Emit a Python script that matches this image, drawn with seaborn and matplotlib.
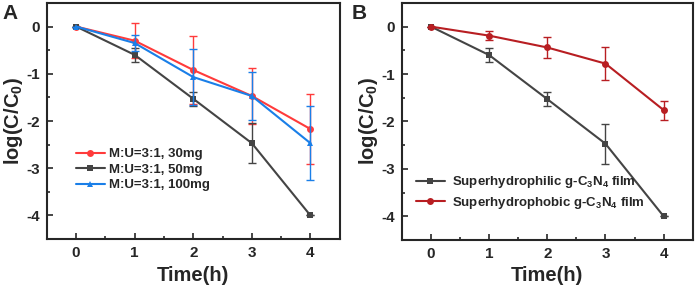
import numpy as np
import pandas as pd
import matplotlib
matplotlib.use("Agg")
import matplotlib.pyplot as plt
import seaborn as sns
from matplotlib.ticker import MultipleLocator

# --- data ---
time_h = [0, 1, 2, 3, 4]

# panel A
a_30mg = [0, -0.30, -0.92, -1.47, -2.17]
a_30mg_err = [0, 0.37, 0.72, 0.60, 0.75]
a_50mg = [0, -0.60, -1.53, -2.47, -4.00]
a_50mg_err = [0, 0.15, 0.15, 0.42, 0]
a_100mg = [0, -0.35, -1.07, -1.47, -2.47]
a_100mg_err = [0, 0.17, 0.60, 0.50, 0.78]
a_labels = ["M:U=3:1, 30mg", "M:U=3:1, 50mg", "M:U=3:1, 100mg"]

# panel B
b_philic = [0, -0.60, -1.53, -2.47, -4.00]
b_philic_err = [0, 0.15, 0.15, 0.42, 0]
b_phobic = [0, -0.19, -0.44, -0.78, -1.76]
b_phobic_err = [0, 0.09, 0.22, 0.35, 0.20]
b_labels = ["Superhydrophilic g-C$_3$N$_4$ film", "Superhydrophobic g-C$_3$N$_4$ film"]

sns.set_style("ticks")
plt.rcParams['font.family'] = ['Liberation Sans', 'DejaVu Sans']
plt.rcParams['font.weight'] = 'bold'
plt.rcParams['mathtext.fontset'] = 'custom'
plt.rcParams['mathtext.rm'] = 'Liberation Sans:bold'
plt.rcParams['mathtext.it'] = 'Liberation Sans:bold'

fig = plt.figure(figsize=(6.99, 2.93), dpi=100)
axA = fig.add_axes([0.067, 0.184, 0.419, 0.806])
axB = fig.add_axes([0.575, 0.181, 0.416, 0.809])


def draw(ax, series):
    for y, err, lab, col, mk in series:
        df = pd.DataFrame({"t": time_h, "v": y})
        sns.lineplot(data=df, x="t", y="v", ax=ax, color=col, marker=mk,
                     markersize=5, markeredgewidth=0, linewidth=1.5, label=lab)
        ax.errorbar(time_h, y, yerr=err, fmt='none', ecolor=col, elinewidth=1,
                    capsize=3, capthick=1)


def style(ax):
    ax.set_xlim(-0.5, 4.5)
    ax.set_ylim(-4.5, 0.5)
    ax.xaxis.set_major_locator(MultipleLocator(1))
    ax.xaxis.set_minor_locator(MultipleLocator(0.5))
    ax.yaxis.set_major_locator(MultipleLocator(1))
    ax.yaxis.set_minor_locator(MultipleLocator(0.5))
    ax.tick_params(which='both', direction='in', width=1.2)
    ax.tick_params(which='major', length=4.5, labelsize=11, pad=5)
    ax.tick_params(which='minor', length=2.5)
    for s in ax.spines.values():
        s.set_visible(True)
        s.set_linewidth(1.5)
    ax.set_xlabel("Time(h)", fontsize=14.5, fontweight='bold', labelpad=4)
    ax.set_ylabel("log(C/C$_0$)", fontsize=14.5, fontweight='bold', labelpad=1)
    ax.set_yticks([0, -1, -2, -3, -4])
    ax.set_yticklabels(["0", "-1", "-2", "-3", "-4"])
    for t in ax.get_xticklabels() + ax.get_yticklabels():
        t.set_fontweight('bold')


draw(axA, [
    (a_30mg, a_30mg_err, a_labels[0], "#ff3b3b", "o"),
    (a_50mg, a_50mg_err, a_labels[1], "#444444", "s"),
    (a_100mg, a_100mg_err, a_labels[2], "#1a7fe8", "^"),
])
style(axA)
axA.legend(loc='lower left', bbox_to_anchor=(0.08, 0.18), frameon=False,
           fontsize=9.5, handlelength=2.2, handletextpad=0.3, labelspacing=0.25,
           borderaxespad=0)

draw(axB, [
    (b_philic, b_philic_err, b_labels[0], "#444444", "s"),
    (b_phobic, b_phobic_err, b_labels[1], "#b81e22", "o"),
])
style(axB)
axB.legend(loc='lower left', bbox_to_anchor=(0.03, 0.1), frameon=False,
           fontsize=9.5, handlelength=2.2, handletextpad=0.5, labelspacing=0.35,
           borderaxespad=0)

fig.text(0.004, 0.985, "A", fontsize=15, fontweight='bold', va='top', ha='left')
fig.text(0.503, 0.985, "B", fontsize=15, fontweight='bold', va='top', ha='left')

fig.savefig("out.png", dpi=100)
